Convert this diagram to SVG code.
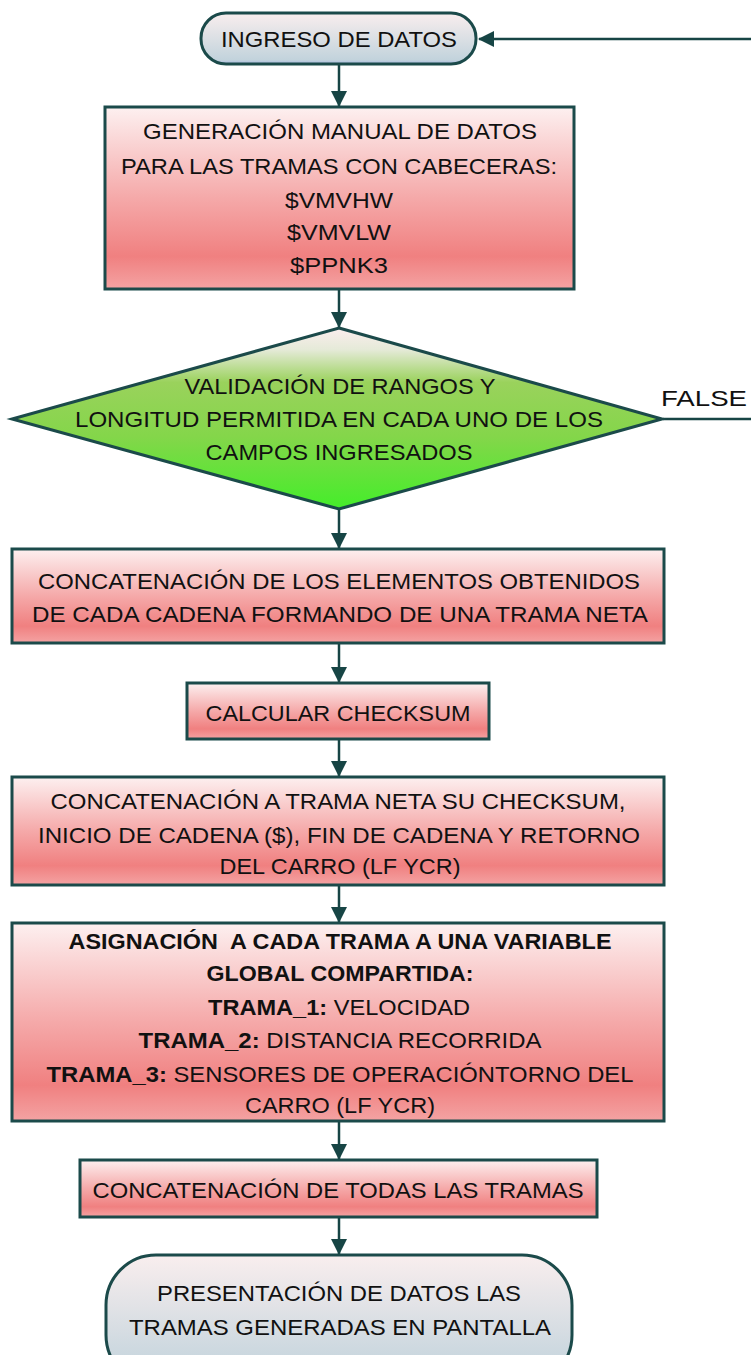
<svg xmlns="http://www.w3.org/2000/svg" width="751" height="1355" viewBox="0 0 751 1355">
<defs>
<linearGradient id="gRed" x1="0" y1="0" x2="0" y2="1">
<stop offset="0" stop-color="#fdf0f0"/>
<stop offset="0.5" stop-color="#f5a9a9"/>
<stop offset="0.82" stop-color="#f08080"/>
<stop offset="1" stop-color="#f4a3a3"/>
</linearGradient>
<linearGradient id="gBlue" x1="0" y1="0" x2="0" y2="1">
<stop offset="0" stop-color="#f9eeee"/>
<stop offset="0.92" stop-color="#c2d3dc"/>
<stop offset="1" stop-color="#a9b8e0"/>
</linearGradient>
<linearGradient id="gGreen" x1="0" y1="0" x2="0" y2="1">
<stop offset="0" stop-color="#fbeeee"/>
<stop offset="0.12" stop-color="#e5ead8"/>
<stop offset="0.3" stop-color="#9ad25c"/>
<stop offset="0.6" stop-color="#84d64a"/>
<stop offset="1" stop-color="#44ee2a"/>
</linearGradient>
<marker id="arr" viewBox="0 0 16 16" refX="15" refY="8" markerWidth="16" markerHeight="16" markerUnits="userSpaceOnUse" orient="auto">
<path d="M0,0 L16,8 L0,16 z" fill="#174545"/>
</marker>
</defs>
<style>
.n{stroke:#1b4a4a;stroke-width:3}
.c{fill:none;stroke:#174545;stroke-width:2.5}
text{font-family:"Liberation Sans",Arial,sans-serif;font-size:22px;fill:#111;text-anchor:middle}
.b{font-weight:bold}
.pre{white-space:pre}
</style>
<g id="connectors">
<line class="c" x1="339" y1="65" x2="339" y2="106" marker-end="url(#arr)"/>
<line class="c" x1="751" y1="39" x2="479" y2="39" marker-end="url(#arr)"/>
<line class="c" x1="339" y1="290" x2="339" y2="327" marker-end="url(#arr)"/>
<line class="c" x1="663" y1="419" x2="751" y2="419"/>
<line class="c" x1="339" y1="510" x2="339" y2="548" marker-end="url(#arr)"/>
<line class="c" x1="339" y1="644" x2="339" y2="682" marker-end="url(#arr)"/>
<line class="c" x1="339" y1="740" x2="339" y2="776" marker-end="url(#arr)"/>
<line class="c" x1="339" y1="886" x2="339" y2="922" marker-end="url(#arr)"/>
<line class="c" x1="339" y1="1122" x2="339" y2="1159" marker-end="url(#arr)"/>
<line class="c" x1="339" y1="1218" x2="339" y2="1254" marker-end="url(#arr)"/>
<text x="704" y="406" font-size="24" textLength="86" lengthAdjust="spacingAndGlyphs">FALSE</text>
</g>
<g id="start">
<rect class="n" x="201" y="13" width="275" height="51" rx="25" fill="url(#gBlue)"/>
<text x="339" y="47" textLength="236" lengthAdjust="spacingAndGlyphs">INGRESO DE DATOS</text>
</g>
<g id="generacion">
<rect class="n" x="105" y="107" width="469" height="182" fill="url(#gRed)"/>
<text x="340" y="139" textLength="394" lengthAdjust="spacingAndGlyphs">GENERACIÓN MANUAL DE DATOS</text>
<text x="339" y="174" textLength="436" lengthAdjust="spacingAndGlyphs">PARA LAS TRAMAS CON CABECERAS:</text>
<text x="339" y="208" textLength="108" lengthAdjust="spacingAndGlyphs">$VMVHW</text>
<text x="339" y="240" textLength="104" lengthAdjust="spacingAndGlyphs">$VMVLW</text>
<text x="339" y="273" textLength="98" lengthAdjust="spacingAndGlyphs">$PPNK3</text>
</g>
<g id="validacion">
<polygon class="n" points="339,328 662,419 339,509 12,419" fill="url(#gGreen)"/>
<text x="340" y="394" textLength="311" lengthAdjust="spacingAndGlyphs">VALIDACIÓN DE RANGOS Y</text>
<text x="339" y="427" textLength="528" lengthAdjust="spacingAndGlyphs">LONGITUD PERMITIDA EN CADA UNO DE LOS</text>
<text x="339" y="460" textLength="267" lengthAdjust="spacingAndGlyphs">CAMPOS INGRESADOS</text>
</g>
<g id="concat1">
<rect class="n" x="12" y="549" width="652" height="94" fill="url(#gRed)"/>
<text x="339" y="589" textLength="602" lengthAdjust="spacingAndGlyphs">CONCATENACIÓN DE LOS ELEMENTOS OBTENIDOS</text>
<text x="340" y="622" textLength="616" lengthAdjust="spacingAndGlyphs">DE CADA CADENA FORMANDO DE UNA TRAMA NETA</text>
</g>
<g id="checksum">
<rect class="n" x="187" y="683" width="302" height="56" fill="url(#gRed)"/>
<text x="338" y="721" textLength="265" lengthAdjust="spacingAndGlyphs">CALCULAR CHECKSUM</text>
</g>
<g id="concat2">
<rect class="n" x="12" y="777" width="652" height="108" fill="url(#gRed)"/>
<text x="338" y="809" textLength="575" lengthAdjust="spacingAndGlyphs">CONCATENACIÓN A TRAMA NETA SU CHECKSUM,</text>
<text x="339" y="843" textLength="602" lengthAdjust="spacingAndGlyphs">INICIO DE CADENA ($), FIN DE CADENA Y RETORNO</text>
<text x="340" y="874" textLength="241" lengthAdjust="spacingAndGlyphs">DEL CARRO (LF YCR)</text>
</g>
<g id="asignacion">
<rect class="n" x="12" y="923" width="652" height="198" fill="url(#gRed)"/>
<text x="340" y="949" textLength="543" lengthAdjust="spacingAndGlyphs" class="b pre">ASIGNACIÓN  A CADA TRAMA A UNA VARIABLE</text>
<text x="340" y="981" textLength="267" lengthAdjust="spacingAndGlyphs" class="b">GLOBAL COMPARTIDA:</text>
<text x="339" y="1015" textLength="262" lengthAdjust="spacingAndGlyphs"><tspan class="b">TRAMA_1:</tspan> VELOCIDAD</text>
<text x="340" y="1048" textLength="403" lengthAdjust="spacingAndGlyphs"><tspan class="b">TRAMA_2:</tspan> DISTANCIA RECORRIDA</text>
<text x="340" y="1082" textLength="587" lengthAdjust="spacingAndGlyphs"><tspan class="b">TRAMA_3:</tspan> SENSORES DE OPERACIÓNTORNO DEL</text>
<text x="340" y="1113" textLength="190" lengthAdjust="spacingAndGlyphs">CARRO (LF YCR)</text>
</g>
<g id="concat3">
<rect class="n" x="80" y="1160" width="517" height="57" fill="url(#gRed)"/>
<text x="338" y="1198" textLength="491" lengthAdjust="spacingAndGlyphs">CONCATENACIÓN DE TODAS LAS TRAMAS</text>
</g>
<g id="end">
<rect class="n" x="106" y="1255" width="466" height="130" rx="50" fill="url(#gBlue)"/>
<text x="339" y="1301" textLength="364" lengthAdjust="spacingAndGlyphs">PRESENTACIÓN DE DATOS LAS</text>
<text x="340" y="1335" textLength="422" lengthAdjust="spacingAndGlyphs">TRAMAS GENERADAS EN PANTALLA</text>
</g>
</svg>
